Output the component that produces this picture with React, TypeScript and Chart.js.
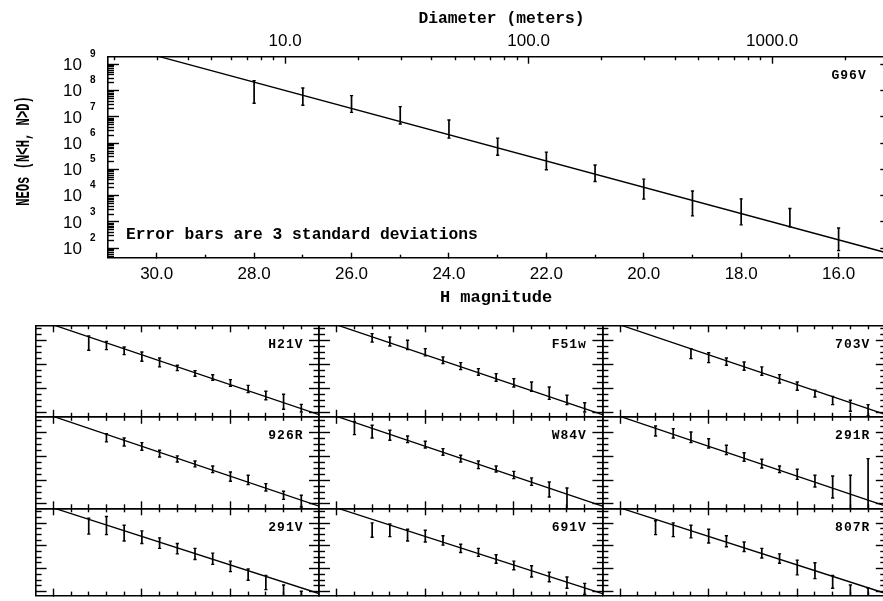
import React, { useEffect, useRef } from 'react';
import { Chart, registerables } from 'chart.js';

Chart.register(...registerables);

// ---------------- data ----------------
// H magnitude bins of the cumulative counts (brightest bin last)
const H_BINS = [29, 28, 27, 26, 25, 24, 23, 22, 21, 20, 19, 18, 17, 16];
// model cumulative population line, log10 N at two H values
const MODEL_H = [30, 15];
const MODEL_LOG_N = [9.32, 1.82];

// error bar ends, log10 N(<H), 3 sigma (null = no bar)
const G96V_LOG_HI = [null, 8.38, 8.10, 7.81, 7.39, 6.88, 6.19, 5.66, 5.17, 4.63, 4.18, 3.88, 3.51, 2.77];
const G96V_LOG_LO = [null, 7.52, 7.44, 7.17, 6.73, 6.19, 5.54, 4.99, 4.54, 3.87, 3.23, 2.89, 2.82, 1.91];

const H21V_LOG_HI = [null, 8.40, 7.95, 7.48, 7.06, 6.56, 5.95, 5.50, 5.16, 4.75, 4.27, 3.77, 3.52, 2.68];
const H21V_LOG_LO = [null, 7.20, 7.26, 6.84, 6.28, 5.81, 5.50, 5.03, 4.69, 4.19, 3.66, 3.07, 2.27, 2.04];

const F51W_LOG_HI = [null, 8.59, 8.31, 8.04, 7.34, 6.64, 6.17, 5.67, 5.25, 4.83, 4.55, 4.13, 3.44, 2.82];
const F51W_LOG_LO = [null, 7.90, 7.56, 7.26, 6.73, 6.09, 5.58, 5.11, 4.61, 4.13, 3.77, 3.10, 2.66, 2.04];

const S703V_LOG_HI = [null, null, null, 7.34, 7.00, 6.56, 6.22, 5.81, 5.17, 4.55, 3.86, 3.35, 3.02, 2.66];
const S703V_LOG_LO = [null, null, null, 6.50, 6.17, 5.95, 5.53, 5.11, 4.47, 3.86, 3.30, 2.66, 2.10, 1.71];

const S926R_LOG_HI = [null, null, 7.88, 7.52, 7.13, 6.49, 6.02, 5.60, 5.18, 4.68, 4.40, 3.70, 3.06, 2.73];
const S926R_LOG_LO = [null, null, 7.19, 6.85, 6.49, 5.93, 5.51, 5.10, 4.62, 3.90, 3.62, 3.09, 2.39, 1.75];

const W84V_LOG_HI = [8.91, 8.58, 8.16, 7.69, 7.24, 6.63, 6.07, 5.60, 5.18, 4.73, 4.18, 3.84, 3.34, null];
const W84V_LOG_LO = [7.80, 7.52, 7.33, 7.13, 6.68, 6.07, 5.51, 4.96, 4.68, 4.12, 3.56, 2.59, 1.50, null];

const S291R_LOG_HI = [null, 8.52, 8.30, 8.02, 7.46, 6.91, 6.29, 5.74, 5.18, 4.90, 4.40, 4.34, 4.40, 5.79];
const S291R_LOG_LO = [null, 7.69, 7.52, 7.13, 6.68, 6.13, 5.57, 5.01, 4.62, 4.06, 3.42, 2.50, 1.50, 1.50];

const S291V_LOG_HI = [null, 8.43, 8.57, 7.81, 7.31, 6.70, 6.20, 5.78, 5.36, 4.66, 3.97, 3.41, 2.57, 2.02];
const S291V_LOG_LO = [null, 7.03, 6.98, 6.42, 6.20, 5.78, 5.30, 4.80, 4.38, 3.74, 2.99, 2.16, 1.50, 1.50];

const S691V_LOG_HI = [null, 8.01, 7.92, 7.45, 7.37, 6.89, 6.14, 5.78, 5.22, 4.66, 4.25, 3.69, 3.27, 2.71];
const S691V_LOG_LO = [null, 6.75, 6.81, 6.42, 6.34, 6.06, 5.42, 5.08, 4.47, 3.91, 3.27, 2.85, 2.29, 1.74];

const S807R_LOG_HI = [null, 8.20, 8.01, 7.81, 7.45, 6.89, 6.34, 5.78, 5.30, 4.75, 4.52, 3.41, 2.57, 2.29];
const S807R_LOG_LO = [null, 6.98, 6.81, 6.70, 6.25, 5.92, 5.50, 4.94, 4.47, 3.46, 3.13, 2.29, 1.50, 1.50];

// axes
const H_MIN = 15;
const H_MAX = 31;
const LOG_N_MIN = 1.64;
const LOG_N_MAX = 9.29;
const MAIN_H_MAJOR = [16, 18, 20, 22, 24, 26, 28, 30];
const MAIN_H_MINOR = [17, 19, 21, 23, 25, 27, 29];
const DIAMETER_LABELS = [10, 100, 1000];
const Y_EXPONENTS = [2, 3, 4, 5, 6, 7, 8, 9];
const PANEL_H_MAJOR = [30, 25, 20];
const PANEL_H_MINOR = [29, 28, 27, 26, 24, 23, 22, 21, 19, 18, 17, 16];
const PANEL_Y_MAJOR_EXP = [2, 4, 6, 8];
const PANEL_Y_MINOR_EXP = [2.5, 3, 3.5, 4.5, 5, 5.5, 6.5, 7, 7.5, 8.5, 9];
const ALBEDO = 0.2;

// ---------------- layout / style ----------------
const CANVAS_W = 900;
const CANVAS_H = 601;
const BLACK = '#000000';
const SANS = '"Liberation Sans", Arial, sans-serif';
const MONO = '"Liberation Mono", "Courier New", monospace';

const MAIN_BOX = { left: 108, top: 56.7, right: 887.3, bottom: 257.7 };
const PANEL_COL_LEFT = [35.6, 319.0, 602.4];
const PANEL_W = 283.4;
const PANEL_ROW_TOP = [325.3, 416.8, 508.3];
const PANEL_H = 91.5;

const PANELS = [
  { name: 'H21V', hi: H21V_LOG_HI, lo: H21V_LOG_LO, col: 0, row: 0 },
  { name: 'F51w', hi: F51W_LOG_HI, lo: F51W_LOG_LO, col: 1, row: 0 },
  { name: '703V', hi: S703V_LOG_HI, lo: S703V_LOG_LO, col: 2, row: 0 },
  { name: '926R', hi: S926R_LOG_HI, lo: S926R_LOG_LO, col: 0, row: 1 },
  { name: 'W84V', hi: W84V_LOG_HI, lo: W84V_LOG_LO, col: 1, row: 1 },
  { name: '291R', hi: S291R_LOG_HI, lo: S291R_LOG_LO, col: 2, row: 1 },
  { name: '291V', hi: S291V_LOG_HI, lo: S291V_LOG_LO, col: 0, row: 2 },
  { name: '691V', hi: S691V_LOG_HI, lo: S691V_LOG_LO, col: 1, row: 2 },
  { name: '807R', hi: S807R_LOG_HI, lo: S807R_LOG_LO, col: 2, row: 2 },
];

// ---------------- helpers ----------------
function diameterMeters(h: number): number {
  return (1329000 / Math.sqrt(ALBEDO)) * Math.pow(10, -h / 5);
}

function logMinorTicks(lo: number, hi: number, nFrom: number, nTo: number): number[] {
  const out: number[] = [];
  for (let n = nFrom; n <= nTo; n++) {
    for (let k = 2; k <= 9; k++) {
      const v = k * Math.pow(10, n);
      if (v >= lo && v <= hi) out.push(v);
    }
  }
  return out;
}

function axis(type: string, position: string, min: number, max: number, values: number[], len: number, extra: any = {}) {
  const horizontal = position === 'top' || position === 'bottom';
  return {
    type,
    position,
    min,
    max,
    reverse: !!extra.reverse,
    afterBuildTicks: (s: any) => {
      s.ticks = values.map((v) => ({ value: v }));
    },
    afterFit: (s: any) => {
      if (horizontal) s.height = 0;
      else s.width = 0;
    },
    grid: {
      display: true,
      drawOnChartArea: false,
      drawTicks: true,
      tickLength: -len,
      tickWidth: 1.4,
      tickColor: BLACK,
      color: BLACK,
    },
    border: { display: !!extra.border, color: BLACK, width: 1.6 },
    ticks: extra.labels
      ? {
          display: true,
          mirror: true,
          autoSkip: false,
          maxRotation: 0,
          minRotation: 0,
          padding: extra.padding,
          color: BLACK,
          font: { family: SANS, size: 17 },
          callback: (v: any) => extra.labels(Number(v)),
        }
      : { display: false },
  };
}

function errorBarData(lo: (number | null)[], hi: (number | null)[]) {
  const pts: any[] = [];
  H_BINS.forEach((h, i) => {
    const a = lo[i];
    const b = hi[i];
    if (a == null || b == null) return;
    pts.push({ x: h, y: Math.pow(10, a) }, { x: h, y: Math.pow(10, b) }, { x: h, y: null });
  });
  return pts;
}

function buildDatasets(lo: (number | null)[], hi: (number | null)[]) {
  return [
    {
      label: 'model',
      data: MODEL_H.map((h, i) => ({ x: h, y: Math.pow(10, MODEL_LOG_N[i]) })),
      borderColor: BLACK,
      borderWidth: 1.4,
      pointRadius: 0,
      fill: false,
      tension: 0,
    },
    {
      label: 'counts',
      data: errorBarData(lo, hi),
      borderColor: BLACK,
      borderWidth: 1.7,
      pointStyle: 'line',
      pointRadius: 1.6,
      pointBorderWidth: 1.4,
      pointBorderColor: BLACK,
      pointBackgroundColor: BLACK,
      spanGaps: false,
      fill: false,
      tension: 0,
    },
  ];
}

function padFor(box: { left: number; top: number; right: number; bottom: number }) {
  return { left: box.left, top: box.top, right: CANVAS_W - box.right, bottom: CANVAS_H - box.bottom };
}

function labelPlugin(text: string, dxRight: number, dyTop: number) {
  return {
    id: 'panelLabel',
    afterDraw(chart: any) {
      const { ctx, chartArea } = chart;
      ctx.save();
      ctx.font = `bold 13px ${MONO}`;
      (ctx as any).letterSpacing = '1px';
      ctx.fillStyle = BLACK;
      ctx.textAlign = 'right';
      ctx.textBaseline = 'middle';
      ctx.fillText(text, chartArea.right - dxRight, chartArea.top + dyTop);
      ctx.restore();
    },
  };
}

const mainTextPlugin = {
  id: 'mainText',
  afterDraw(chart: any) {
    const { ctx } = chart;
    const y = chart.scales.y;
    ctx.save();
    ctx.fillStyle = BLACK;
    // y tick labels 10^n
    ctx.font = `17px ${SANS}`;
    ctx.textAlign = 'right';
    ctx.textBaseline = 'middle';
    Y_EXPONENTS.forEach((e) => {
      ctx.fillText('10', 82, y.getPixelForValue(Math.pow(10, e)) + 1);
    });
    ctx.font = `bold 10px ${SANS}`;
    ctx.textAlign = 'left';
    Y_EXPONENTS.forEach((e) => {
      ctx.fillText(String(e), 90, y.getPixelForValue(Math.pow(10, e)) - 10);
    });
    // axis titles
    ctx.textAlign = 'center';
    ctx.font = `bold 16.3px ${MONO}`;
    ctx.fillText('Diameter (meters)', 501.5, 18.5);
    ctx.font = `bold 17px ${MONO}`;
    ctx.fillText('H magnitude', 496, 298);
    // note
    ctx.textAlign = 'left';
    ctx.font = `bold 16.3px ${MONO}`;
    ctx.fillText('Error bars are 3 standard deviations', 126, 234.5);
    // rotated y title
    ctx.save();
    ctx.translate(23.3, 151);
    ctx.rotate(-Math.PI / 2);
    ctx.scale(0.58, 1);
    ctx.font = `bold 21px ${MONO}`;
    ctx.textAlign = 'center';
    ctx.fillText('NEOs (N<H, N>D)', 0, 0);
    ctx.restore();
    ctx.restore();
  },
};

function mainConfig(): any {
  const yMin = Math.pow(10, LOG_N_MIN);
  const yMax = Math.pow(10, LOG_N_MAX);
  const dMin = diameterMeters(H_MAX);
  const dMax = diameterMeters(H_MIN);
  const yMajor = Y_EXPONENTS.map((e) => Math.pow(10, e));
  const yMinor = logMinorTicks(yMin, yMax, 1, 9);
  const dMinor = logMinorTicks(dMin, dMax, 0, 3);
  return {
    type: 'line',
    data: { datasets: buildDatasets(G96V_LOG_LO, G96V_LOG_HI) },
    options: {
      responsive: false,
      animation: false,
      events: [],
      layout: { padding: padFor(MAIN_BOX) },
      plugins: { legend: { display: false }, tooltip: { enabled: false } },
      scales: {
        x: axis('linear', 'bottom', H_MIN, H_MAX, MAIN_H_MAJOR, 5, {
          reverse: true, border: true, labels: (v: number) => v.toFixed(1), padding: -26.5,
        }),
        xMinor: axis('linear', 'bottom', H_MIN, H_MAX, MAIN_H_MINOR, 3, { reverse: true }),
        xTop: axis('logarithmic', 'top', dMin, dMax, DIAMETER_LABELS, 7, {
          border: true, labels: (v: number) => v.toFixed(1), padding: -25.2,
        }),
        xTopMinor: axis('logarithmic', 'top', dMin, dMax, dMinor, 3.5),
        y: axis('logarithmic', 'left', yMin, yMax, yMajor, 11, { border: true }),
        yMinor: axis('logarithmic', 'left', yMin, yMax, yMinor, 6),
        yRight: axis('logarithmic', 'right', yMin, yMax, yMajor, 7, { border: true }),
        yRightMinor: axis('logarithmic', 'right', yMin, yMax, yMinor, 4),
      },
    },
    plugins: [mainTextPlugin, labelPlugin('G96V', 20.6, 19.3)],
  };
}

function panelConfig(p: any): any {
  const yMin = Math.pow(10, LOG_N_MIN);
  const yMax = Math.pow(10, LOG_N_MAX);
  const yMajor = PANEL_Y_MAJOR_EXP.map((e) => Math.pow(10, e));
  const yMinor = PANEL_Y_MINOR_EXP.map((e) => Math.pow(10, e));
  const left = PANEL_COL_LEFT[p.col];
  const top = PANEL_ROW_TOP[p.row];
  const box = { left, top, right: left + PANEL_W, bottom: top + PANEL_H };
  return {
    type: 'line',
    data: { datasets: buildDatasets(p.lo, p.hi) },
    options: {
      responsive: false,
      animation: false,
      events: [],
      layout: { padding: padFor(box) },
      plugins: { legend: { display: false }, tooltip: { enabled: false } },
      scales: {
        x: axis('linear', 'bottom', H_MIN, H_MAX, PANEL_H_MAJOR, 7, { reverse: true, border: true }),
        xMinor: axis('linear', 'bottom', H_MIN, H_MAX, PANEL_H_MINOR, 4, { reverse: true }),
        xTop: axis('linear', 'top', H_MIN, H_MAX, PANEL_H_MAJOR, 7, { reverse: true, border: true }),
        xTopMinor: axis('linear', 'top', H_MIN, H_MAX, PANEL_H_MINOR, 4, { reverse: true }),
        y: axis('logarithmic', 'left', yMin, yMax, yMajor, 11, { border: true }),
        yMinor: axis('logarithmic', 'left', yMin, yMax, yMinor, 6),
        yRight: axis('logarithmic', 'right', yMin, yMax, yMajor, 10, { border: true }),
        yRightMinor: axis('logarithmic', 'right', yMin, yMax, yMinor, 5.5),
      },
    },
    plugins: [labelPlugin(p.name, 15.5, 19)],
  };
}

export default function App() {
  const refs = useRef<(HTMLCanvasElement | null)[]>([]);

  useEffect(() => {
    const charts: Chart[] = [];
    const configs = [mainConfig(), ...PANELS.map((p) => panelConfig(p))];
    configs.forEach((cfg, i) => {
      const c = refs.current[i];
      if (c) charts.push(new Chart(c, cfg));
    });
    return () => charts.forEach((ch) => ch.destroy());
  }, []);

  const count = PANELS.length + 1;
  return (
    <div
      style={{
        position: 'absolute',
        left: 0,
        top: 0,
        width: 883,
        height: 601,
        overflow: 'hidden',
        background: '#ffffff',
      }}
    >
      {Array.from({ length: count }).map((_, i) => (
        <canvas
          key={i}
          ref={(el) => {
            refs.current[i] = el;
          }}
          width={CANVAS_W}
          height={CANVAS_H}
          style={{ position: 'absolute', left: 0, top: 0, width: CANVAS_W, height: CANVAS_H }}
        />
      ))}
    </div>
  );
}
